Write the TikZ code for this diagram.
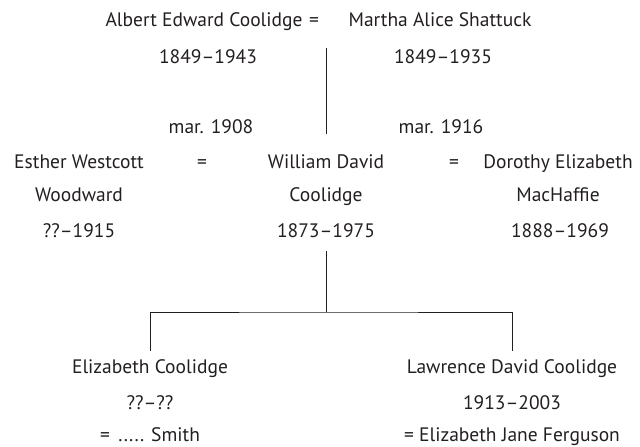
\documentclass[tikz,border=0pt]{standalone}
\usepackage{fontspec}
\setmainfont{PT Sans}
\definecolor{ink}{HTML}{231F20}
\begin{document}
\begin{tikzpicture}[x=1pt,y=-1pt,
  txt/.style={inner sep=0pt,anchor=base,text=ink,font=\fontsize{19.5}{22}\selectfont},
  line/.style={draw=ink,line width=0.8pt}]
\useasboundingbox (0,0) rectangle (640,447);
% generation 1
\node[txt] (albert) at (204,27) {Albert Edward Coolidge};
\node[txt] (eq0) at (314,27) {=};
\node[txt] (martha) at (440,27) {Martha Alice Shattuck};
\node[txt] (albertd) at (208,63) {1849–1943};
\node[txt] (marthad) at (443,63) {1849–1935};
% marriages
\node[txt] (mar1) at (211,133) {mar. 1908};
\node[txt] (mar2) at (441,133) {mar. 1916};
% generation 2
\node[txt] (esther1) at (79,168) {Esther Westcott};
\node[txt] (esther2) at (79,201) {Woodward};
\node[txt] (estherd) at (79,237) {??–1915};
\node[txt] (eq1) at (202,168) {=};
\node[txt] (will1) at (326,168) {William David};
\node[txt] (will2) at (326,201) {Coolidge};
\node[txt] (willd) at (326,237) {1873–1975};
\node[txt] (eq2) at (454,168) {=};
\node[txt] (dor1) at (558,168) {Dorothy Elizabeth};
\node[txt] (dor2) at (558,201) {MacHaffie};
\node[txt] (dord) at (560,237) {1888–1969};
% generation 3
\node[txt] (eliz1) at (150,373) {Elizabeth Coolidge};
\node[txt] (elizd) at (150,409) {??–??};
\node[txt] (elizs) at (150,441) {= \,..... Smith};
\node[txt] (law1) at (512,373) {Lawrence David Coolidge};
\node[txt] (lawd) at (512,409) {1913–2003};
\node[txt] (laws) at (512,441) {= Elizabeth Jane Ferguson};
% connectors
\coordinate (top) at (326,48);
\coordinate (topend) at (326,134);
\coordinate (mid) at (326,251);
\coordinate (bar) at (326,312);
\coordinate (lend) at (150,351);
\coordinate (rend) at (512,351);
\draw[line] (top) -- (topend);
\draw[line] (mid) -- (bar);
\draw[line] (lend) |- (bar) -| (rend);
\end{tikzpicture}
\end{document}
